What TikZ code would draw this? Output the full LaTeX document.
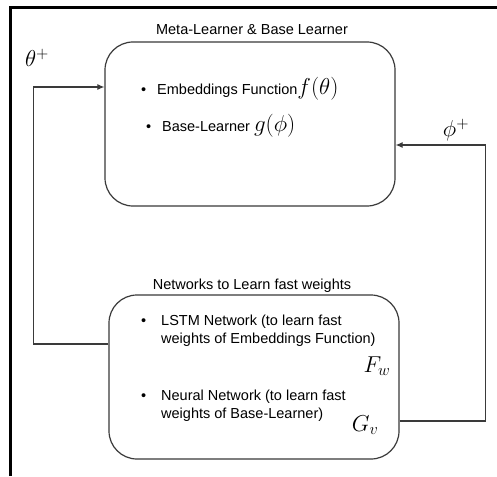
\RequirePackage{fix-cm}
\documentclass[tikz,border=0pt]{standalone}
\usepackage{fontspec}
\setmainfont{Liberation Sans}
\usetikzlibrary{arrows.meta}
\definecolor{linegray}{HTML}{3A3A3A}
\begin{document}
\begin{tikzpicture}[x=1pt,y=-1pt,
  box/.style={draw=linegray, line width=1.2pt, rounded corners=28pt, minimum width=290pt, minimum height=164pt, inner sep=0pt},
  conn/.style={draw=linegray, line width=1.1pt},
  tip/.style={-{Latex[length=7pt,width=6pt]}},
  txt/.style={font=\fontsize{14.5}{17}\selectfont, inner sep=0pt, anchor=base west},
  ttl/.style={font=\fontsize{14.5}{17}\selectfont, inner sep=0pt, anchor=base},
  mth/.style={font=\fontsize{23}{23}\selectfont, inner sep=0pt}
]
\useasboundingbox (0,0) rectangle (497,476);
\fill[white] (0,0) rectangle (497,476);
% frame (top and left edges)
\draw[line width=3pt] (10.5,476) -- (10.5,8) -- (497,8);

% boxes
\node[box] (top) at (250,124) {};
\node[box] (bot) at (254,377) {};

% titles
\node[ttl] (ttop) at (252,35) {Meta-Learner \& Base Learner};
\node[ttl] (tbot) at (252,289) {Networks to Learn fast weights};

% top box contents
\node[txt] (b1) at (141,95) {•};
\node[txt] (l1) at (157,95) {Embeddings Function{\fontsize{23}{23}\selectfont$f(\theta)$}};
\node[txt] (b2) at (146,131) {•};
\node[txt] (l2) at (162,131) {Base-Learner {\fontsize{23}{23}\selectfont$g(\phi)$}};

% bottom box contents
\node[txt] (b3) at (141,325) {•};
\node[txt] (l3) at (161,325) {LSTM Network (to learn fast};
\node[txt] (l4) at (161,343) {weights of Embeddings Function)};
\node[mth] (fw) at (377,366) {$F_w$};
\node[txt] (b4) at (141,400) {•};
\node[txt] (l5) at (161,400) {Neural Network (to learn fast};
\node[txt] (l6) at (161,418) {weights of Base-Learner)};
\node[mth] (gv) at (365,425) {$G_v$};

% connector labels
\node[mth] (theta) at (37,58) {$\theta^{+}$};
\node[mth] (phi) at (456,130) {$\phi^{+}$};

% connectors
\draw[conn,tip] ([yshift=33pt]bot.west) -- ++(-75,0) |- ([yshift=37pt]top.west);
\draw[conn,tip] ([yshift=-44pt]bot.east) -- ++(86,0) |- ([yshift=-21pt]top.east);
\end{tikzpicture}
\end{document}
